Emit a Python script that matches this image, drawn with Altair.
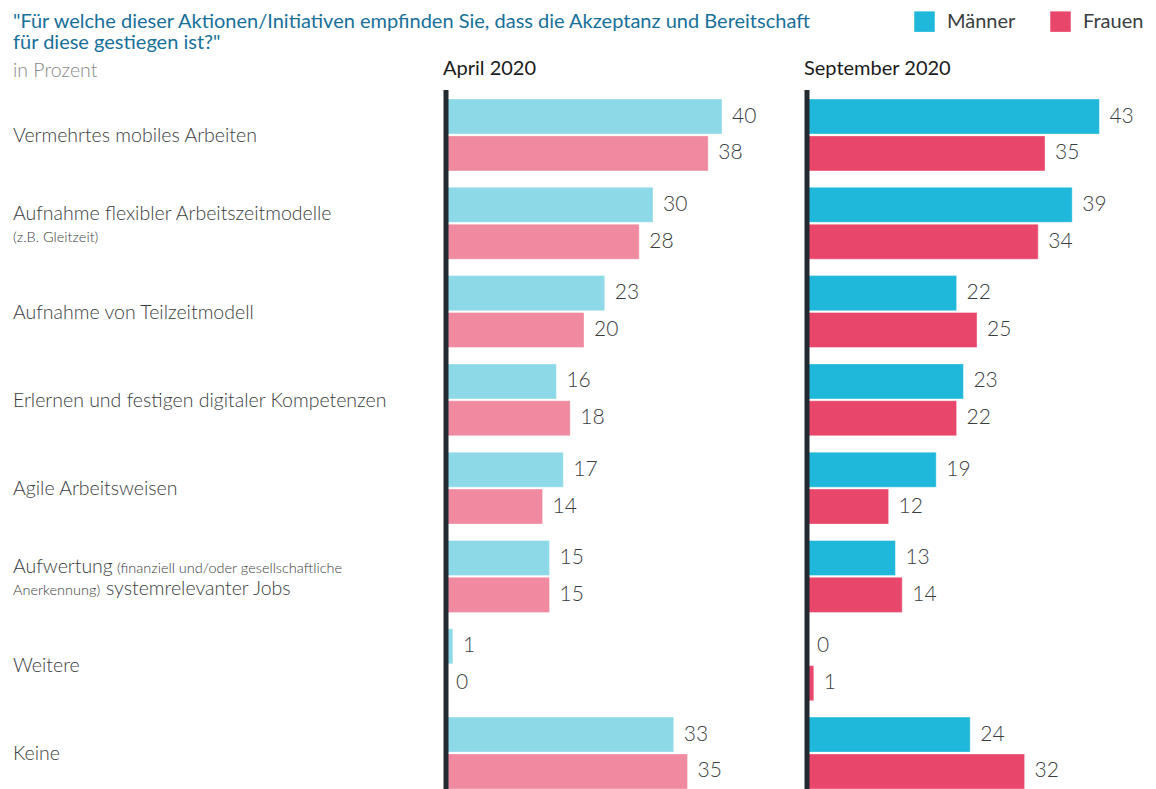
import altair as alt
import pandas as pd

# ---------------- data ----------------
categories = [
    "Vermehrtes mobiles Arbeiten",
    "Aufnahme flexibler Arbeitszeitmodelle (z.B. Gleitzeit)",
    "Aufnahme von Teilzeitmodell",
    "Erlernen und festigen digitaler Kompetenzen",
    "Agile Arbeitsweisen",
    "Aufwertung (finanziell und/oder gesellschaftliche Anerkennung) systemrelevanter Jobs",
    "Weitere",
    "Keine",
]
label_line1 = [
    "Vermehrtes mobiles Arbeiten",
    "Aufnahme flexibler Arbeitszeitmodelle",
    "Aufnahme von Teilzeitmodell",
    "Erlernen und festigen digitaler Kompetenzen",
    "Agile Arbeitsweisen",
    "Aufwertung",
    "Weitere",
    "Keine",
]
label_line1_small = ["", "", "", "", "", "(finanziell und/oder gesellschaftliche", "", ""]
label_line2_small = ["", "(z.B. Gleitzeit)", "", "", "", "Anerkennung)", "", ""]
label_line2 = ["", "", "", "", "", "systemrelevanter Jobs", "", ""]

genders = ["Männer", "Frauen"]
periods = ["April 2020", "September 2020"]

april_maenner = [40, 30, 23, 16, 17, 15, 1, 33]
april_frauen = [38, 28, 20, 18, 14, 15, 0, 35]
sept_maenner = [43, 39, 22, 23, 19, 13, 0, 24]
sept_frauen = [35, 34, 25, 22, 12, 14, 1, 32]

title_lines = [
    "\"Für welche dieser Aktionen/Initiativen empfinden Sie, dass die Akzeptanz und Bereitschaft",
    "für diese gestiegen ist?\"",
]
subtitle = "in Prozent"

# ---------------- tables ----------------
rows = []
for i, c in enumerate(categories):
    rows.append(dict(cat=c, period=periods[0], gender=genders[0], value=april_maenner[i]))
    rows.append(dict(cat=c, period=periods[0], gender=genders[1], value=april_frauen[i]))
    rows.append(dict(cat=c, period=periods[1], gender=genders[0], value=sept_maenner[i]))
    rows.append(dict(cat=c, period=periods[1], gender=genders[1], value=sept_frauen[i]))
df = pd.DataFrame(rows)

lab = pd.DataFrame(dict(cat=categories, l1=label_line1, s1=label_line1_small,
                        s2=label_line2_small, l2=label_line2))
titles = pd.DataFrame(dict(t=title_lines + [subtitle], k=["t1", "t2", "sub"]))
one = pd.DataFrame({"a": [0]})

# ---------------- style ----------------
FONT = "Lato"
H = 699
LABEL_W = 446
APR_W = 361
SEP_W = 348
TXT = "#3a3d40"

yscale = alt.Scale(type="band", domain=categories, paddingInner=0.1855, paddingOuter=0, range=[9, 699])
offscale = alt.Scale(domain=genders, paddingInner=0.05, paddingOuter=0)


def panel(period, colors, width, k, legend):
    base = alt.Chart(df).transform_filter(alt.datum.period == period)
    x = alt.X("value:Q", scale=alt.Scale(domain=[0, width / k], nice=False, zero=True), axis=None)
    y = alt.Y("cat:N", sort=categories, scale=yscale, axis=None)
    yo = alt.YOffset("gender:N", sort=genders, scale=offscale)
    bars = base.mark_bar(stroke="white", strokeWidth=0.6, strokeOpacity=0.6).encode(
        x=x, y=y, yOffset=yo,
        color=alt.Color("gender:N", sort=genders,
                        scale=alt.Scale(domain=genders, range=colors), legend=legend),
    )
    text = base.mark_text(align="left", baseline="middle", dx=10, fontSize=21,
                          font=FONT, fontWeight=300, color=TXT).encode(
        x=x, y=y, yOffset=yo, text="value:Q",
    )
    axis_line = alt.Chart(one).mark_rule(color="#232a30", strokeWidth=5).encode(
        x=alt.value(0), y=alt.value(0), y2=alt.value(H))
    header = alt.Chart(pd.DataFrame({"p": [period]})).mark_text(
        align="left", baseline="alphabetic", fontSize=20, font=FONT, color="#1a1a1a"
    ).encode(x=alt.value(-3), y=alt.value(-15), text="p:N")
    return alt.layer(bars, text, axis_line, header).properties(width=width, height=H)


legend = alt.Legend(orient="none", legendX=107, legendY=-79, direction="horizontal",
                    title=None, symbolType="square", symbolSize=420, symbolStrokeWidth=0,
                    labelFontSize=20, labelFont=FONT, labelColor=TXT, labelOffset=12,
                    columnPadding=34, padding=0, symbolOpacity=1)

april = panel(periods[0], ["#8ed9e8", "#f08aa0"], APR_W, 6.9, None)
sept = panel(periods[1], ["#20b8da", "#e8476b"], SEP_W, 6.8, legend)

# ---------------- label column ----------------
ly = alt.Y("cat:N", sort=categories, scale=yscale, axis=None)
lbase = alt.Chart(lab)
big = dict(align="left", fontSize=19.5, font=FONT, fontWeight=300, color=TXT)
small = dict(align="left", fontSize=14.5, font=FONT, fontWeight=300, color=TXT)

single = lbase.transform_filter("datum.s2 == ''").mark_text(baseline="alphabetic", dy=7, **big).encode(
    x=alt.value(13), y=ly, text="l1:N")
two_l1 = lbase.transform_filter("datum.s2 != ''").mark_text(baseline="alphabetic", dy=-3, **big).encode(
    x=alt.value(13), y=ly, text="l1:N")
two_s1 = lbase.transform_filter("datum.s1 != ''").mark_text(baseline="alphabetic", dy=-3, **small).encode(
    x=alt.value(117), y=ly, text="s1:N")
two_s2 = lbase.transform_filter("datum.s2 != ''").mark_text(baseline="alphabetic", dy=19, **small).encode(
    x=alt.value(13), y=ly, text="s2:N")
two_l2 = lbase.transform_filter("datum.l2 != ''").mark_text(baseline="alphabetic", dy=19, **big).encode(
    x=alt.value(106), y=ly, text="l2:N")

tbase = alt.Chart(titles)
t1 = tbase.transform_filter("datum.k == 't1'").mark_text(
    align="left", baseline="alphabetic", fontSize=20, font=FONT, color="#17709a").encode(
    x=alt.value(13), y=alt.value(-62), text="t:N")
t2 = tbase.transform_filter("datum.k == 't2'").mark_text(
    align="left", baseline="alphabetic", fontSize=20, font=FONT, color="#17709a").encode(
    x=alt.value(13), y=alt.value(-41), text="t:N")
t3 = tbase.transform_filter("datum.k == 'sub'").mark_text(
    align="left", baseline="alphabetic", fontSize=19.5, font=FONT, fontWeight=300, color="#8a8a8a").encode(
    x=alt.value(13), y=alt.value(-13), text="t:N")
top_anchor = alt.Chart(one).mark_rule(opacity=0, strokeWidth=1).encode(
    x=alt.value(0), x2=alt.value(5), y=alt.value(-90), y2=alt.value(-90))

labels = alt.layer(single, two_l1, two_s1, two_s2, two_l2, t1, t2, t3, top_anchor).properties(
    width=LABEL_W, height=H)

chart = alt.hconcat(labels, april, sept, spacing=0, bounds="flush").resolve_scale(
    color="independent", x="independent"
).properties(padding=0).configure(font=FONT).configure_view(strokeWidth=0, stroke="transparent")

chart.save("out.html", embed_options={"renderer": "svg", "actions": False})
